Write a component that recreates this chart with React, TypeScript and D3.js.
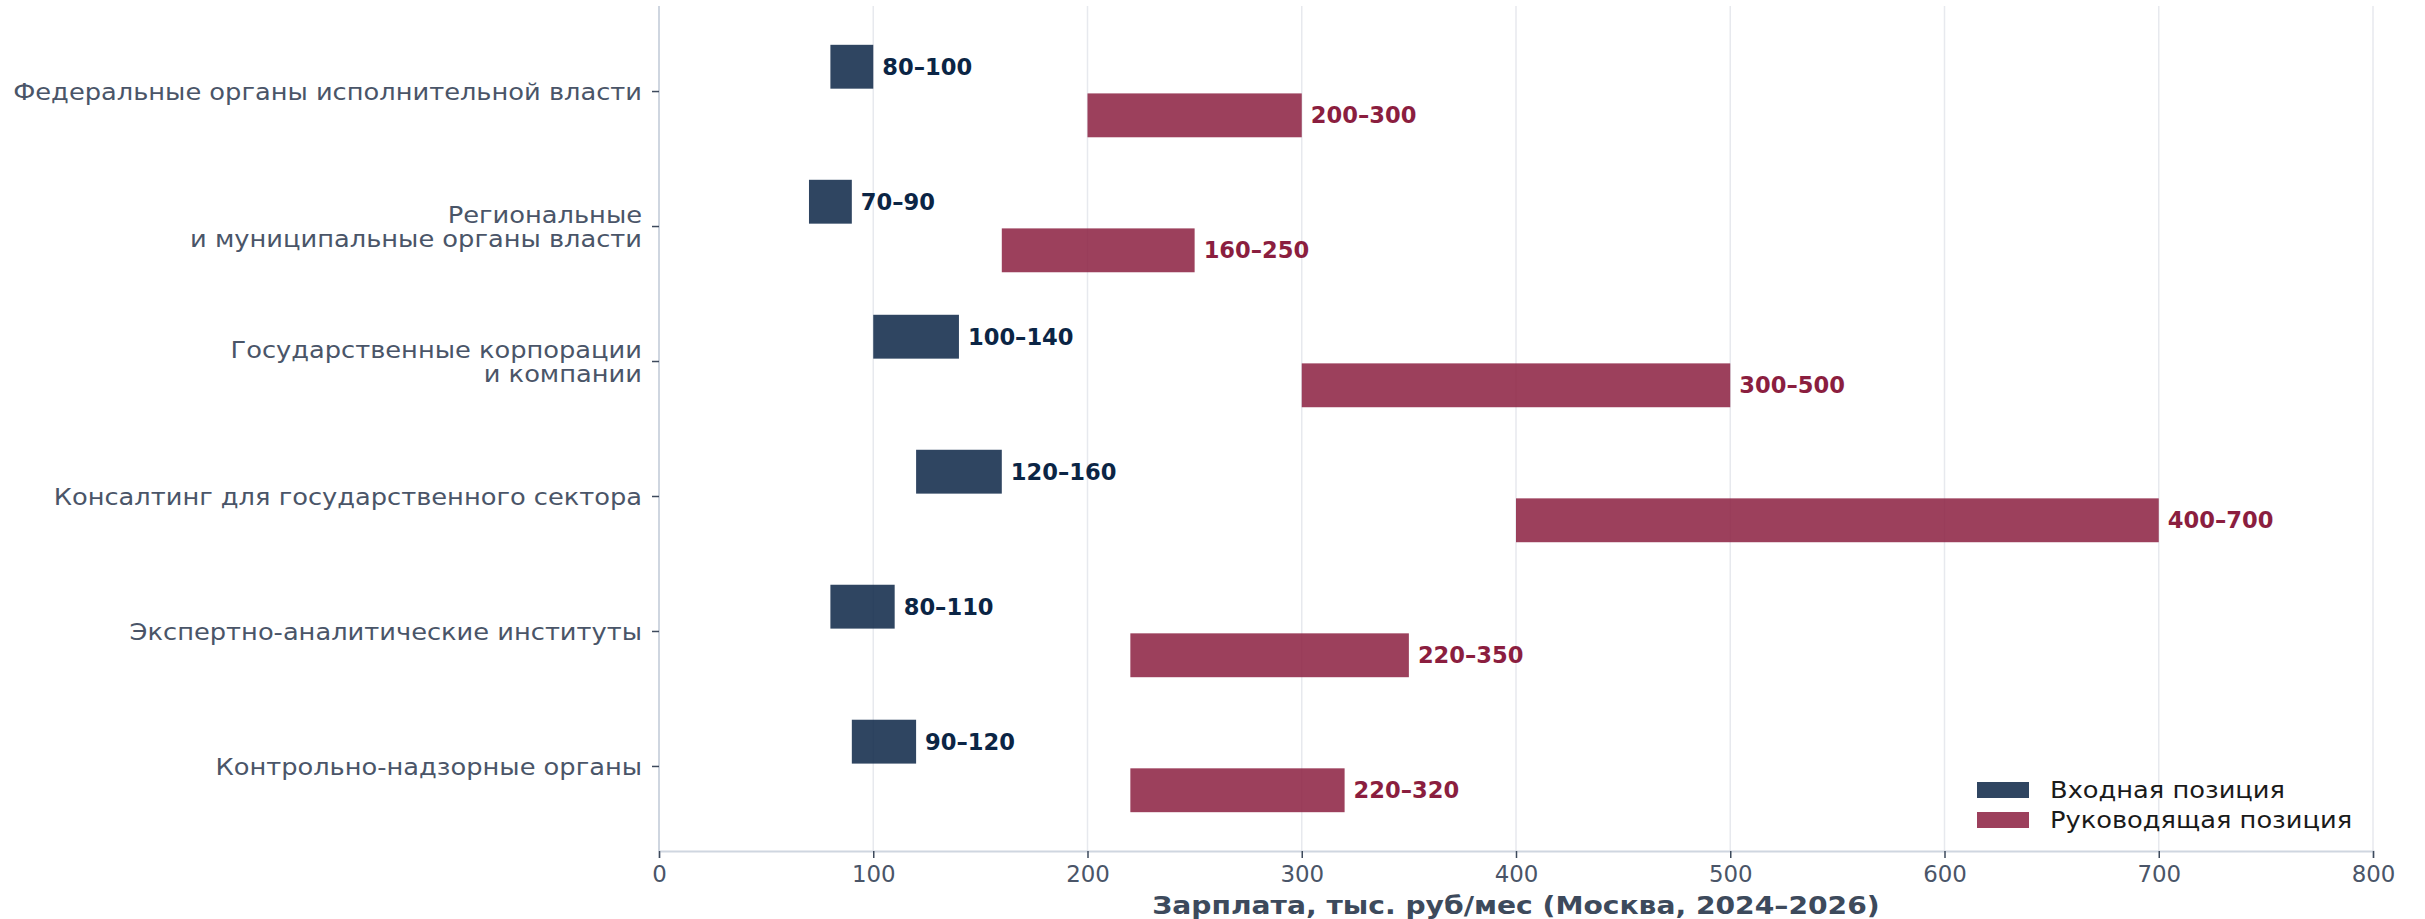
import React, { useEffect, useRef } from 'react';
import { select, scaleLinear, axisBottom, axisLeft, range } from 'd3';

const categories = [
  'Федеральные органы исполнительной власти',
  'Региональные\nи муниципальные органы власти',
  'Государственные корпорации\nи компании',
  'Консалтинг для государственного сектора',
  'Экспертно-аналитические институты',
  'Контрольно-надзорные органы',
];

const entryMin = [80, 70, 100, 120, 80, 90];
const entryMax = [100, 90, 140, 160, 110, 120];
const leadMin = [200, 160, 300, 400, 220, 220];
const leadMax = [300, 250, 500, 700, 350, 320];

const xTicks = [0, 100, 200, 300, 400, 500, 600, 700, 800];
const seriesNames = ['Входная позиция', 'Руководящая позиция'];
const xLabel = 'Зарплата, тыс. руб/мес (Москва, 2024–2026)';

const W = 2425;
const H = 919;
const FONT = '"DejaVu Sans", sans-serif';
// the reference glyphs are drawn a little wider than DejaVu's
const STRETCH = 1.123;

const App = () => {
  const ref = useRef<SVGSVGElement>(null);

  useEffect(() => {
    const svg = select(ref.current);
    svg.selectAll('*').remove();

    const left = 659;
    const right = 2373;
    const top = 6;
    const bottom = 851;

    const x = scaleLinear().domain([0, 800]).range([left, right]);
    const y = scaleLinear().domain([-0.63, 5.63]).range([top, bottom]);

    const offset = 0.18;
    const barH = y(0.325) - y(0);

    const series = [
      { name: seriesNames[0], lo: entryMin, hi: entryMax, fill: '#0b2545', text: '#0b2545', dy: -offset },
      { name: seriesNames[1], lo: leadMin, hi: leadMax, fill: '#8b1e3f', text: '#8b1e3f', dy: offset },
    ];

    // grid
    svg
      .append('g')
      .selectAll('line')
      .data(xTicks)
      .enter()
      .append('line')
      .attr('x1', (d) => x(d))
      .attr('x2', (d) => x(d))
      .attr('y1', top)
      .attr('y2', bottom)
      .attr('stroke', '#e7e9ee')
      .attr('stroke-width', 1.5);

    // bars
    series.forEach((s) => {
      const g = svg.append('g');
      g.selectAll('rect')
        .data(categories.map((_, i) => i))
        .enter()
        .append('rect')
        .attr('x', (i) => x(s.lo[i]))
        .attr('width', (i) => x(s.hi[i]) - x(s.lo[i]))
        .attr('y', (i) => y(i + s.dy) - barH / 2)
        .attr('height', barH)
        .attr('fill', s.fill)
        .attr('fill-opacity', 0.85);

      g.selectAll('text')
        .data(categories.map((_, i) => i))
        .enter()
        .append('text')
        .attr('x', (i) => x(s.hi[i]) + 9)
        .attr('y', (i) => y(i + s.dy))
        .attr('dy', '0.36em')
        .attr('fill', s.text)
        .attr('font-family', FONT)
        .attr('font-weight', 'bold')
        .attr('font-size', 22.6)
        .text((i) => `${s.lo[i]}–${s.hi[i]}`);
    });

    // x axis
    const xAxis = svg
      .append('g')
      .attr('transform', `translate(0,${bottom})`)
      .call(axisBottom(x).tickValues(xTicks).tickSize(7).tickPadding(8));
    xAxis.select('.domain').attr('stroke', '#cfd6e0').attr('stroke-width', 2);
    xAxis.selectAll('.tick line').attr('stroke', '#3d4a5c').attr('stroke-width', 1.5);
    xAxis
      .selectAll('.tick text')
      .attr('fill', '#4a5568')
      .attr('font-family', FONT)
      .attr('font-size', 22.9);

    // y axis
    const yAxis = svg
      .append('g')
      .attr('transform', `translate(${left},0)`)
      .call(
        axisLeft(y)
          .tickValues(range(categories.length))
          .tickSize(7)
          .tickPadding(10)
          .tickFormat(() => '')
      );
    yAxis.select('.domain').attr('stroke', '#cfd6e0').attr('stroke-width', 2).attr('d', `M0,${top}V${bottom}`);
    yAxis.selectAll('.tick line').attr('stroke', '#3d4a5c').attr('stroke-width', 1.5);

    const lineH = 24;
    yAxis
      .selectAll('.tick text')
      .attr('fill', '#4a5568')
      .attr('font-family', FONT)
      .attr('font-size', 22.9)
      .attr('x', null)
      .attr('transform', `translate(-17,0) scale(${STRETCH},1)`)
      .each(function (d) {
        const lines = categories[d as number].split('\n');
        const t = select(this);
        t.text(null).attr('dy', null);
        lines.forEach((ln, k) => {
          t.append('tspan')
            .attr('x', 0)
            .attr('dy', k === 0 ? `${0.36 * 22.9 - ((lines.length - 1) * lineH) / 2}px` : `${lineH}px`)
            .text(ln);
        });
      });

    // x label
    svg
      .append('text')
      .attr('transform', `translate(${(left + right) / 2},914) scale(1.15,1)`)
      .attr('text-anchor', 'middle')
      .attr('fill', '#3d4a5c')
      .attr('font-family', FONT)
      .attr('font-weight', 'bold')
      .attr('font-size', 24.5)
      .text(xLabel);

    // legend
    const legend = svg.append('g').attr('transform', 'translate(1977,782)');
    legend
      .selectAll('rect')
      .data(series)
      .enter()
      .append('rect')
      .attr('x', 0)
      .attr('y', (d, i) => i * 30)
      .attr('width', 52)
      .attr('height', 16)
      .attr('fill', (d) => d.fill)
      .attr('fill-opacity', 0.85);
    legend
      .selectAll('text')
      .data(series)
      .enter()
      .append('text')
      .attr('transform', (d, i) => `translate(73,${i * 30 + 8}) scale(${STRETCH},1)`)
      .attr('dy', '0.36em')
      .attr('fill', '#1a1a1a')
      .attr('font-family', FONT)
      .attr('font-size', 22.9)
      .text((d) => d.name);
  }, []);

  return (
    <svg
      ref={ref}
      width={W}
      height={H}
      style={{ position: 'absolute', left: 0, top: 0, background: '#ffffff' }}
    />
  );
};

export default App;
